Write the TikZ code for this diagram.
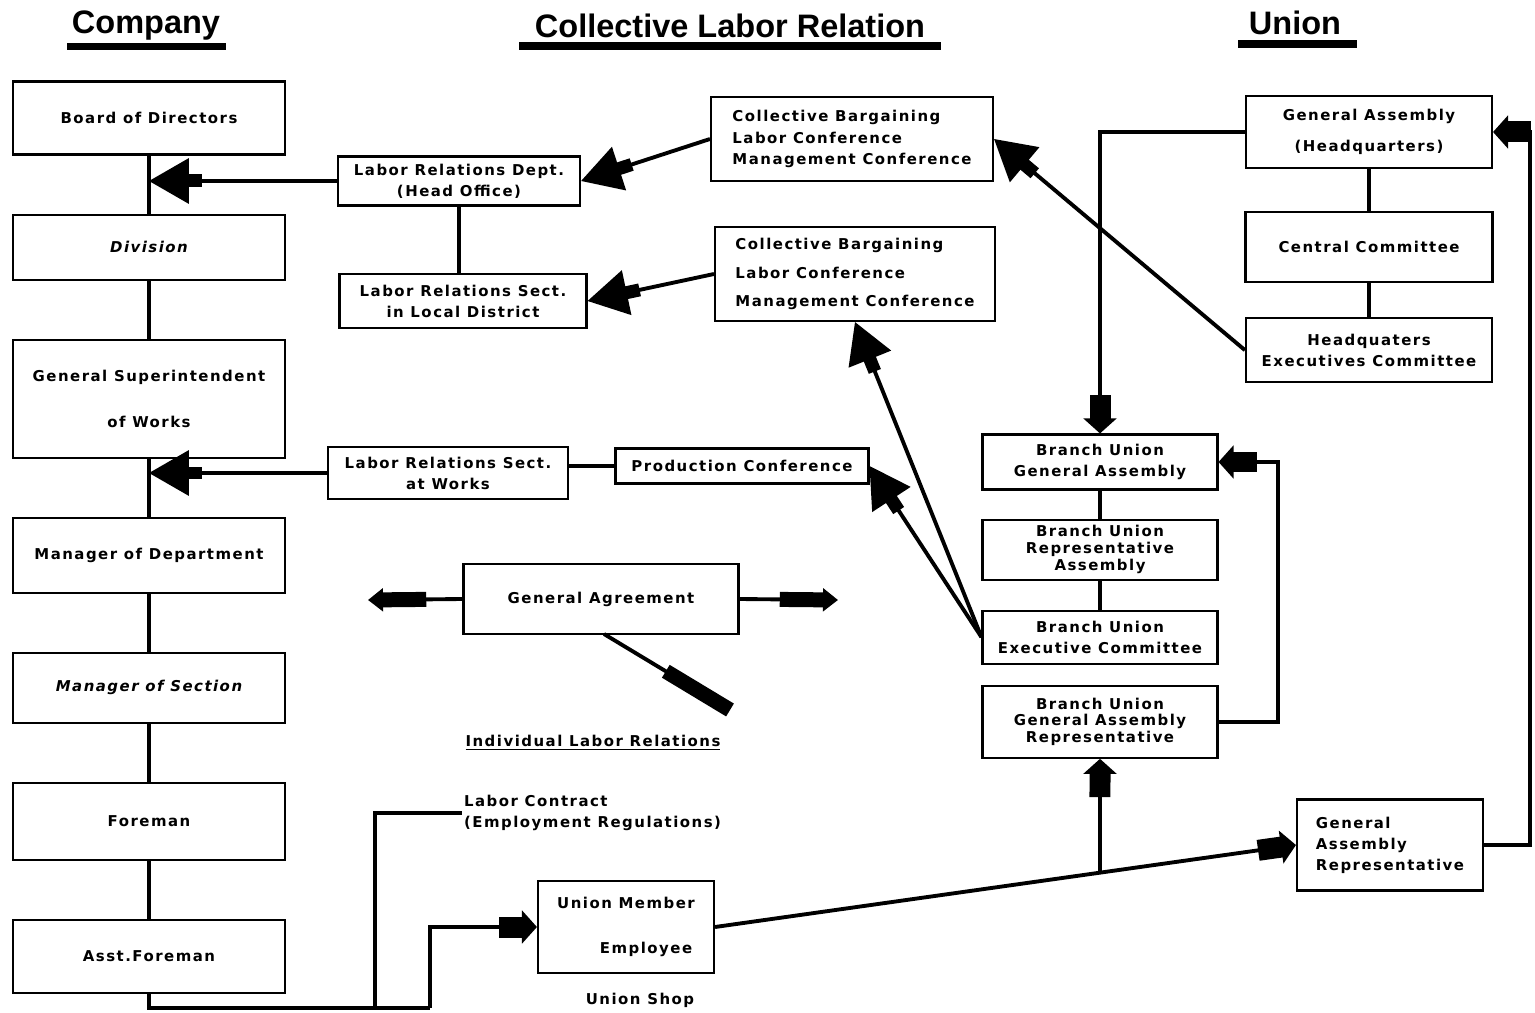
\documentclass[tikz,border=0pt]{standalone}
\usepackage{fontspec}
\usepackage{tikz}
\usetikzlibrary{arrows.meta,positioning}
\newfontfamily\boxfont[LetterSpace=10,BoldFont={DejaVu Sans Bold},
  BoldItalicFont={DejaVu Sans Bold Oblique},ItalicFont={DejaVu Sans Oblique}]{DejaVu Sans}
\newfontfamily\titlefont{Liberation Sans}

\begin{document}
\begin{tikzpicture}[
    x=0.02cm, y=-0.02cm,
    node distance=1.16cm,
    box/.style={rectangle,draw,line width=1.2pt,align=center,inner sep=2pt,
      font=\boxfont\bfseries\fontsize{8.5}{12}\selectfont},
    tightbox/.style={box,font=\boxfont\bfseries\fontsize{8.5}{9.6}\selectfont},
    cbox/.style={box,minimum width=5.44cm},
    plain/.style={inner sep=1pt,font=\boxfont\bfseries\fontsize{8.5}{12}\selectfont},
    title/.style={font=\titlefont\bfseries\fontsize{18.5}{22}\selectfont},
    link/.style={line width=2.2pt},
    bigarrow/.style={line width=2.2pt,-{Rectangle[length=3mm,width=2.6mm,sep=-1pt]Triangle[length=8mm,width=9mm]}},
    smallarrow/.style={line width=2.2pt,-{Rectangle[length=5mm,width=4.2mm,sep=-1pt]Triangle[length=3mm,width=6.5mm]}},
    fatarrow/.style={line width=2.2pt,-{Rectangle[length=9mm,width=3mm,sep=-1pt]Triangle[length=3mm,width=4.5mm]}},
    fatend/.style={line width=2.2pt,-{Rectangle[length=15mm,width=3mm]}}
]
\useasboundingbox (0,0) rectangle (1535,1013);

% headings
\node[title] (tcompany) at (146,26) {Company};
\node[title] (tcollective) at (730,26) {Collective Labor Relation};
\node[title] (tunion) at (1295,23) {Union};
\fill (67,43) rectangle (226,50);
\fill (519,42) rectangle (941,50);
\fill (1238,40) rectangle (1357,48);

% company
\node[cbox,minimum height=1.46cm] (board) at (149,118) {Board of Directors};
\node[cbox,minimum height=1.3cm,below=of board] (division) {\itshape Division};
\node[cbox,minimum height=2.36cm,below=of division] (gensup) {General Superintendent\\[14pt]of Works};
\node[cbox,minimum height=1.5cm,below=of gensup] (mgrdept) {Manager of Department};
\node[cbox,minimum height=1.4cm,below=of mgrdept] (mgrsect) {\itshape Manager of Section};
\node[cbox,minimum height=1.54cm,below=of mgrsect] (foreman) {Foreman};
\node[cbox,minimum height=1.46cm,below=of foreman] (asst) {Asst.Foreman};
\foreach \a/\b in {board/division,division/gensup,gensup/mgrdept,mgrdept/mgrsect,mgrsect/foreman,foreman/asst}
  \draw[link] (\a) -- (\b);

% collective labor relation
\node[box,minimum width=4.84cm,minimum height=0.98cm] (lrdept) at (459,181) {Labor Relations Dept.\\(Head Office)};
\node[box,minimum width=4.94cm,minimum height=1.08cm] (lrlocal) at (463,301) {Labor Relations Sect.\\in Local District};
\node[box,minimum width=5.64cm,minimum height=1.68cm,align=left] (cbhead) at (852,139) {Collective Bargaining\\Labor Conference\\Management Conference};
\node[box,minimum width=5.6cm,minimum height=1.88cm,align=left] (cblocal) at (855,274) {Collective Bargaining\\[4pt]Labor Conference\\[4pt]Management Conference};
\node[box,minimum width=4.8cm,minimum height=1.04cm] (lrworks) at (448,473) {Labor Relations Sect.\\at Works};
\node[box,minimum width=5.06cm,minimum height=0.7cm] (prodconf) at (742,466) {Production Conference};
\node[box,minimum width=5.5cm,minimum height=1.4cm] (genagr) at (601,599) {General Agreement};
\node[plain] (indiv) at (593,743) {\underline{Individual Labor Relations}};
\node[plain,align=left,anchor=north west] (contract) at (462,793) {Labor Contract\\(Employment Regulations)};
\node[box,minimum width=3.52cm,minimum height=1.84cm] (umember) at (626,927) {Union Member\\[14pt]\hspace*{0.8cm}Employee};
\node[plain] (ushop) at (640,1000) {Union Shop};

\draw[link] (lrdept.south) -- (lrdept.south |- lrlocal.north);
\draw[link] (prodconf.west) -- (prodconf.west -| lrworks.east);
\draw[bigarrow] (lrdept.west) -- (lrdept.west -| board.south);
\draw[bigarrow] (lrworks.west) -- (lrworks.west -| gensup.south);
\draw[bigarrow] (cbhead.west) -- (lrdept.east);
\draw[bigarrow] (cblocal.west) -- (lrlocal.east);

\coordinate (galeft) at (368,600);
\coordinate (garight) at (838,600);
\coordinate (gadown) at (730,710);
\draw[fatarrow] (genagr.west) -- (galeft);
\draw[fatarrow] (genagr.east) -- (garight);
\draw[fatend] (604,634) -- (gadown);

\coordinate (contractjoin) at (375,1008);
\coordinate (memberjoin) at (430,1008);
\draw[link] (asst.south) |- (memberjoin);
\draw[link] (contractjoin) |- (contract.west);
\draw[smallarrow] (memberjoin) |- (umember.west);

% union
\node[box,minimum width=4.92cm,minimum height=1.44cm] (gahq) at (1369,132) {General Assembly\\[6pt](Headquarters)};
\node[box,minimum width=4.94cm,minimum height=1.4cm,below=0.84cm of gahq] (central) {Central Committee};
\node[box,minimum width=4.92cm,minimum height=1.28cm,below=0.68cm of central] (hqexec) {Headquaters\\Executives Committee};
\draw[link] (gahq) -- (central);
\draw[link] (central) -- (hqexec);

\node[box,minimum width=4.7cm,minimum height=1.1cm] (bga) at (1100,462) {Branch Union\\General Assembly};
\node[tightbox,minimum width=4.7cm,minimum height=1.2cm,below=0.56cm of bga] (brep) {Branch Union\\Representative\\Assembly};
\node[box,minimum width=4.7cm,minimum height=1.06cm,below=0.58cm of brep] (bexec) {Branch Union\\Executive Committee};
\node[tightbox,minimum width=4.7cm,minimum height=1.44cm,below=0.4cm of bexec] (bgarep) {Branch Union\\General Assembly\\Representative};
\draw[link] (bga) -- (brep);
\draw[link] (brep) -- (bexec);

\node[box,minimum width=3.72cm,minimum height=1.82cm,align=left] (garep) at (1390,845) {General\\Assembly\\Representative};

\draw[smallarrow] (gahq.west) -| (bga.north);
\draw[bigarrow] (hqexec.west) -- (cbhead.east);
\draw[bigarrow] (bexec.west) -- (prodconf.east);
\draw[bigarrow] (bexec.west) -- (cblocal.south);

\coordinate (unionrail) at (1530,500);
\coordinate (branchrail) at (1278,600);
\draw[smallarrow] (garep.east) -| (unionrail) |- (gahq.east);
\draw[smallarrow] (bgarep.east) -| (branchrail) |- (bga.east);

\draw[smallarrow] (umember.east) -- (garep.west);
\coordinate (unionjoin) at (intersection of umember.east--garep.west and bgarep.south--bgarep.center);
\draw[smallarrow] (unionjoin) -- (bgarep.south);
\end{tikzpicture}
\end{document}
